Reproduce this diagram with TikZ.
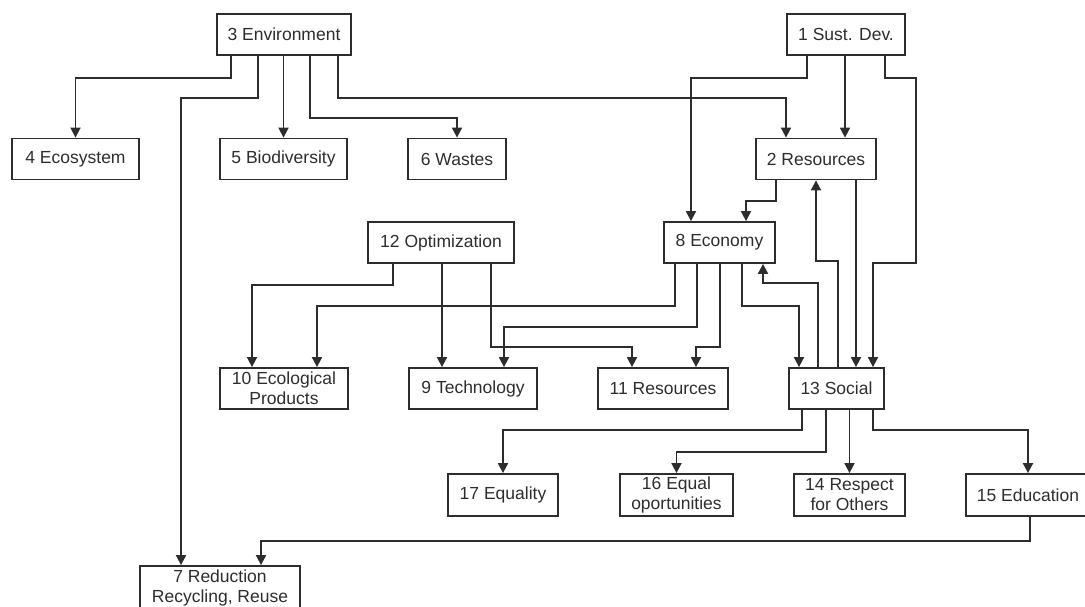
\documentclass[tikz,border=0pt]{standalone}
\usepackage{fontspec}
\setmainfont{Liberation Sans}
\usetikzlibrary{arrows.meta}
\definecolor{ink}{RGB}{45,45,45}
\begin{document}
\begin{tikzpicture}[x=1pt,y=-1pt,
  box/.style={draw=ink, line width=1.8pt, text=ink, inner sep=0pt, align=center,
    minimum height=41pt, font=\fontsize{17.5}{20}\selectfont},
  con/.style={draw=ink, line width=1.8pt},
  arr/.style={con, -{Triangle[length=10pt,width=10pt]}}]
\useasboundingbox (0,0) rectangle (1085,607);
\clip (0,0) rectangle (1085,607);
% nodes
\node[box, minimum width=134pt] (n3) at (284,34.5) {3 Environment};
\node[box, minimum width=118pt] (n1) at (846,34.5) {1 Sust. Dev.};
\node[box, minimum width=127pt] (n4) at (75.5,159) {4 Ecosystem};
\node[box, minimum width=127pt] (n5) at (283.5,159) {5 Biodiversity};
\node[box, minimum width=98pt] (n6) at (457,159) {6 Wastes};
\node[box, minimum width=120pt] (n2) at (816,159) {2 Resources};
\node[box, minimum width=146pt] (n12) at (441,242.5) {12 Optimization};
\node[box, minimum width=111pt] (n8) at (719.5,242.5) {8 Economy};
\node[box, minimum width=128pt] (n10) at (284,388.5) {10 Ecological\\Products};
\node[box, minimum width=128pt] (n9) at (473,388.5) {9 Technology};
\node[box, minimum width=130pt] (n11) at (663,388.5) {11 Resources};
\node[box, minimum width=95pt] (n13) at (836.5,388.5) {13 Social};
\node[box, minimum width=110pt, minimum height=42pt] (n17) at (503,495) {17 Equality};
\node[box, minimum width=113pt, minimum height=42pt] (n16) at (676.5,495) {16 Equal\\oportunities};
\node[box, minimum width=111pt, minimum height=42pt] (n14) at (849.5,495) {14 Respect\\for Others};
\node[box, minimum width=124pt, minimum height=42pt] (n15) at (1028,495) {15 Education};
\node[box, minimum width=160pt, minimum height=44pt] (n7) at (220,588) {7 Reduction\\Recycling, Reuse};
% 3 Environment
\draw[arr] ([xshift=-53pt]n3.south) -- ++(0,22) -| (n4.north);
\draw[arr] ([xshift=-26pt]n3.south) -- ++(0,42) -| ([xshift=-39pt]n7.north);
\draw[arr] (n5.north |- n3.south) -- (n5.north);
\draw[arr] ([xshift=26pt]n3.south) -- ++(0,62) -| (n6.north);
\draw[arr] ([xshift=54pt]n3.south) -- ++(0,42) -| ([xshift=-30pt]n2.north);
% 1 Sust. Dev.
\draw[arr] ([xshift=-39pt]n1.south) -- ++(0,22) -| ([xshift=-28.5pt]n8.north);
\draw[arr] ([xshift=-1pt]n1.south) -- ([xshift=29pt]n2.north);
\draw[arr] ([xshift=39pt]n1.south) -- ++(0,22) -- ++(31,0) -- ++(0,185) -| ([xshift=36.5pt]n13.north);
% 2 Resources
\draw[arr] ([xshift=-40pt]n2.south) -- ++(0,21) -| ([xshift=26.5pt]n8.north);
\draw[arr] ([xshift=40pt]n2.south) -- ([xshift=19.5pt]n13.north);
% 13 Social upward
\draw[arr] ([xshift=1.5pt]n13.north) -- ++(0,-106) -| (n2.south);
\draw[arr] ([xshift=-18.5pt]n13.north) -- ++(0,-84) -| ([xshift=43.5pt]n8.south);
% 8 Economy
\draw[arr] ([xshift=-44.5pt]n8.south) -- ++(0,42) -| ([xshift=33pt]n10.north);
\draw[arr] ([xshift=-22.5pt]n8.south) -- ++(0,63) -| ([xshift=31pt]n9.north);
\draw[arr] ([xshift=0.5pt]n8.south) -- ++(0,83) -| ([xshift=33pt]n11.north);
\draw[arr] ([xshift=22.5pt]n8.south) -- ++(0,42) -| ([xshift=-37.5pt]n13.north);
% 12 Optimization
\draw[arr] ([xshift=-48pt]n12.south) -- ++(0,21) -| ([xshift=-32pt]n10.north);
\draw[arr] ([xshift=1pt]n12.south) -- ([xshift=-31pt]n9.north);
\draw[arr] ([xshift=50pt]n12.south) -- ++(0,83) -| ([xshift=-31pt]n11.north);
% 13 Social downward
\draw[arr] ([xshift=-34.5pt]n13.south) -- ++(0,20) -| (n17.north);
\draw[arr] ([xshift=-10.5pt]n13.south) -- ++(0,42) -| (n16.north);
\draw[arr] (n14.north |- n13.south) -- (n14.north);
\draw[arr] ([xshift=36.5pt]n13.south) -- ++(0,20) -| (n15.north);
% 15 Education
\draw[arr] ([xshift=2pt]n15.south) -- ++(0,24) -| ([xshift=41pt]n7.north);
\end{tikzpicture}
\end{document}
